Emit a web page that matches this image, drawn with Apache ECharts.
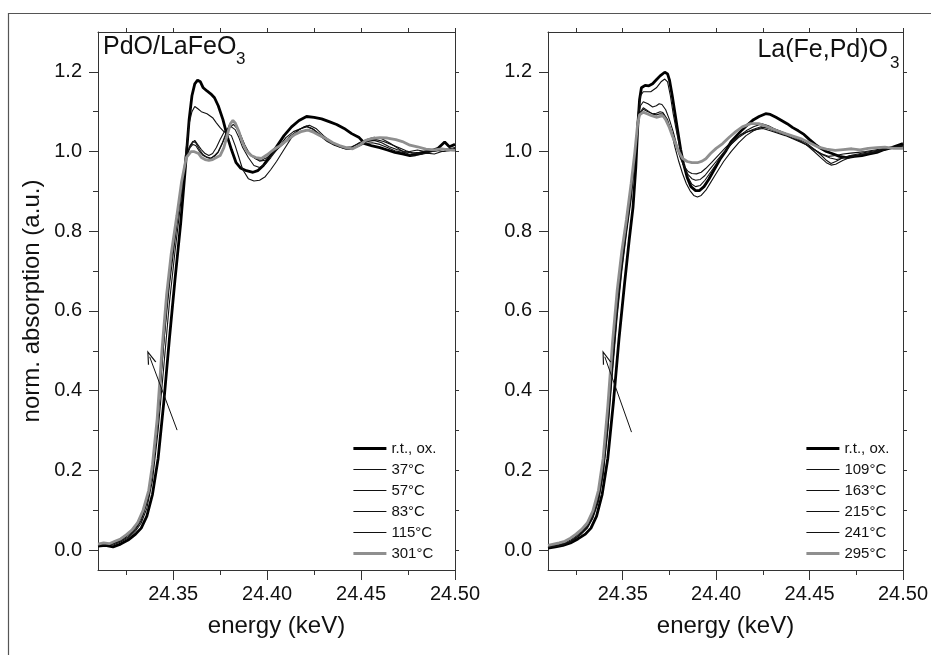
<!DOCTYPE html>
<html><head><meta charset="utf-8">
<script src="https://cdn.jsdelivr.net/npm/echarts@6/dist/echarts.min.js"></script>
<style>html,body{margin:0;padding:0;background:#fff}#c{width:931px;height:655px}</style>
</head><body><div id="c"></div>
<script>
// ---- tick labels ----
const xTicks = [24.35, 24.40, 24.45, 24.50];
const xMinorTicks = [24.325, 24.375, 24.425, 24.475];
const xAllTicks = [24.325, 24.35, 24.375, 24.40, 24.425, 24.45, 24.475, 24.50];
const yTicks = [0, 0.2, 0.4, 0.6, 0.8, 1.0, 1.2];
const yMinorTicks = [0.1, 0.3, 0.5, 0.7, 0.9, 1.1];
const yAllTicks = [0, 0.1, 0.2, 0.3, 0.4, 0.5, 0.6, 0.7, 0.8, 0.9, 1.0, 1.1, 1.2];

// ---- categories (legend entries) ----
const leftNames = ['r.t., ox.', '37°C', '57°C', '83°C', '115°C', '301°C'];
const rightNames = ['r.t., ox.', '109°C', '163°C', '215°C', '241°C', '295°C'];
const leftTitle = 'PdO/LaFeO';
const rightTitle = 'La(Fe,Pd)O';

// ---- arrows [tail, head] ----
const leftArrow = [[24.3521, 0.301], [24.3375, 0.485]];
const rightArrow = [[24.3547, 0.296], [24.3404, 0.485]];

// ---- PdO/LaFeO3 series [energy keV, norm. absorption] ----
const left_rt = [[24.310,0.010],[24.314,0.012],[24.318,0.008],[24.322,0.015],[24.326,0.025],[24.330,0.040],[24.333,0.055],[24.336,0.085],[24.339,0.140],[24.342,0.230],[24.345,0.370],[24.348,0.530],[24.351,0.680],[24.354,0.820],[24.3565,0.960],[24.3585,1.080],[24.360,1.140],[24.3615,1.170],[24.363,1.179],[24.3645,1.175],[24.366,1.160],[24.368,1.152],[24.370,1.145],[24.372,1.135],[24.374,1.115],[24.3765,1.080],[24.379,1.035],[24.381,1.005],[24.3835,0.972],[24.386,0.958],[24.389,0.952],[24.3925,0.948],[24.395,0.952],[24.398,0.965],[24.401,0.985],[24.405,1.012],[24.409,1.040],[24.413,1.062],[24.417,1.078],[24.421,1.088],[24.425,1.086],[24.429,1.082],[24.433,1.075],[24.437,1.068],[24.441,1.058],[24.445,1.045],[24.449,1.035],[24.452,1.020],[24.456,1.014],[24.460,1.010],[24.464,1.004],[24.468,0.998],[24.472,0.994],[24.476,0.990],[24.479,0.992],[24.482,0.996],[24.485,1.000],[24.488,1.003],[24.491,1.008],[24.4945,1.024],[24.497,1.012],[24.500,1.018]];
const left_37 = [[24.310,0.012],[24.314,0.014],[24.318,0.013],[24.322,0.020],[24.326,0.030],[24.330,0.048],[24.333,0.068],[24.336,0.105],[24.339,0.175],[24.342,0.300],[24.345,0.460],[24.348,0.620],[24.351,0.750],[24.354,0.870],[24.3565,0.990],[24.3585,1.070],[24.360,1.100],[24.3615,1.113],[24.363,1.108],[24.365,1.100],[24.368,1.095],[24.371,1.085],[24.373,1.072],[24.375,1.060],[24.377,1.050],[24.379,1.045],[24.381,1.040],[24.383,1.015],[24.385,0.985],[24.387,0.955],[24.390,0.932],[24.393,0.926],[24.396,0.928],[24.399,0.937],[24.402,0.955],[24.405,0.975],[24.409,1.005],[24.413,1.035],[24.417,1.055],[24.421,1.064],[24.424,1.058],[24.428,1.040],[24.432,1.025],[24.436,1.015],[24.440,1.010],[24.444,1.005],[24.448,1.012],[24.452,1.020],[24.456,1.022],[24.460,1.018],[24.464,1.010],[24.468,1.002],[24.472,0.998],[24.476,1.000],[24.480,1.004],[24.484,1.000],[24.488,1.004],[24.492,1.008],[24.496,1.006],[24.500,1.010]];
const left_57 = [[24.310,0.013],[24.314,0.015],[24.318,0.016],[24.322,0.022],[24.326,0.033],[24.330,0.052],[24.333,0.074],[24.336,0.118],[24.339,0.200],[24.342,0.345],[24.345,0.520],[24.348,0.665],[24.351,0.780],[24.354,0.890],[24.3565,0.975],[24.3585,1.010],[24.360,1.020],[24.3615,1.028],[24.363,1.018],[24.365,1.005],[24.367,0.995],[24.369,0.990],[24.371,0.995],[24.373,1.010],[24.375,1.030],[24.377,1.048],[24.379,1.058],[24.381,1.062],[24.383,1.055],[24.385,1.035],[24.387,1.010],[24.390,0.985],[24.393,0.965],[24.396,0.960],[24.399,0.968],[24.402,0.985],[24.406,1.010],[24.410,1.035],[24.414,1.050],[24.418,1.058],[24.421,1.062],[24.425,1.055],[24.429,1.040],[24.433,1.025],[24.437,1.015],[24.441,1.010],[24.445,1.012],[24.449,1.020],[24.453,1.025],[24.457,1.028],[24.461,1.022],[24.465,1.012],[24.469,1.005],[24.473,1.000],[24.477,0.996],[24.481,0.998],[24.485,1.002],[24.489,1.000],[24.493,1.006],[24.497,1.004],[24.500,1.008]];
const left_83 = [[24.310,0.012],[24.313,0.014],[24.316,0.013],[24.319,0.018],[24.322,0.024],[24.325,0.033],[24.328,0.045],[24.331,0.062],[24.334,0.090],[24.337,0.135],[24.339,0.195],[24.3415,0.300],[24.344,0.460],[24.3465,0.605],[24.349,0.720],[24.352,0.825],[24.3545,0.915],[24.357,0.985],[24.359,1.010],[24.3605,1.018],[24.362,1.015],[24.364,1.000],[24.366,0.990],[24.368,0.985],[24.370,0.982],[24.372,0.990],[24.374,1.000],[24.376,1.020],[24.378,1.045],[24.380,1.068],[24.3815,1.076],[24.383,1.070],[24.385,1.052],[24.387,1.028],[24.389,1.005],[24.392,0.988],[24.3945,0.980],[24.397,0.978],[24.400,0.985],[24.404,1.000],[24.408,1.018],[24.412,1.038],[24.416,1.052],[24.4195,1.062],[24.4225,1.066],[24.426,1.058],[24.430,1.040],[24.434,1.025],[24.438,1.012],[24.442,1.006],[24.446,1.008],[24.450,1.018],[24.454,1.028],[24.458,1.030],[24.462,1.025],[24.466,1.018],[24.470,1.010],[24.474,1.002],[24.478,0.996],[24.482,0.994],[24.486,0.998],[24.490,1.003],[24.494,1.000],[24.497,1.006],[24.500,1.004]];
const left_115 = [[24.310,0.014],[24.313,0.016],[24.316,0.015],[24.319,0.020],[24.322,0.026],[24.325,0.036],[24.328,0.048],[24.331,0.066],[24.334,0.096],[24.337,0.145],[24.339,0.205],[24.3415,0.318],[24.344,0.480],[24.3465,0.625],[24.349,0.735],[24.352,0.835],[24.3545,0.920],[24.357,0.988],[24.359,1.015],[24.3605,1.026],[24.362,1.022],[24.364,1.005],[24.366,0.992],[24.368,0.986],[24.370,0.984],[24.372,0.988],[24.374,0.998],[24.376,1.018],[24.378,1.040],[24.380,1.060],[24.382,1.068],[24.384,1.058],[24.386,1.040],[24.388,1.018],[24.390,1.000],[24.393,0.985],[24.396,0.976],[24.399,0.978],[24.402,0.990],[24.406,1.008],[24.410,1.025],[24.414,1.040],[24.418,1.050],[24.4215,1.055],[24.425,1.050],[24.429,1.038],[24.433,1.025],[24.437,1.015],[24.441,1.008],[24.445,1.010],[24.449,1.022],[24.453,1.030],[24.457,1.036],[24.461,1.032],[24.465,1.022],[24.469,1.010],[24.473,0.998],[24.477,0.990],[24.481,0.992],[24.485,0.996],[24.489,0.994],[24.493,1.000],[24.497,1.002],[24.500,1.006]];
const left_301 = [[24.310,0.015],[24.313,0.018],[24.316,0.016],[24.319,0.022],[24.322,0.028],[24.325,0.038],[24.328,0.050],[24.331,0.068],[24.334,0.100],[24.337,0.150],[24.339,0.215],[24.3415,0.330],[24.344,0.500],[24.3465,0.640],[24.349,0.745],[24.352,0.840],[24.3545,0.925],[24.357,0.985],[24.3595,1.000],[24.361,1.000],[24.362,1.005],[24.3635,0.995],[24.365,0.985],[24.367,0.980],[24.369,0.978],[24.371,0.980],[24.373,0.985],[24.375,0.990],[24.377,1.010],[24.379,1.045],[24.3805,1.070],[24.3818,1.078],[24.383,1.072],[24.385,1.050],[24.387,1.022],[24.389,1.002],[24.3915,0.990],[24.394,0.985],[24.397,0.983],[24.400,0.992],[24.4035,1.005],[24.407,1.015],[24.411,1.030],[24.4145,1.042],[24.418,1.050],[24.4215,1.054],[24.425,1.048],[24.428,1.040],[24.4315,1.032],[24.435,1.022],[24.4385,1.015],[24.442,1.010],[24.4455,1.007],[24.449,1.015],[24.4525,1.028],[24.456,1.033],[24.460,1.035],[24.464,1.034],[24.4685,1.030],[24.472,1.025],[24.476,1.016],[24.480,1.012],[24.4845,1.006],[24.489,1.004],[24.493,1.007],[24.4965,1.004],[24.500,1.003]];

// ---- La(Fe,Pd)O3 series ----
const right_rt = [[24.310,0.005],[24.314,0.008],[24.318,0.012],[24.322,0.018],[24.326,0.028],[24.330,0.040],[24.333,0.055],[24.336,0.085],[24.339,0.140],[24.342,0.230],[24.345,0.370],[24.348,0.530],[24.351,0.670],[24.3535,0.780],[24.3555,0.860],[24.357,0.960],[24.358,1.060],[24.359,1.130],[24.360,1.160],[24.362,1.166],[24.364,1.165],[24.366,1.170],[24.368,1.180],[24.370,1.190],[24.3725,1.199],[24.374,1.195],[24.375,1.180],[24.3765,1.140],[24.378,1.095],[24.3795,1.050],[24.381,1.005],[24.3825,0.970],[24.3845,0.935],[24.3865,0.912],[24.389,0.902],[24.391,0.902],[24.3935,0.912],[24.396,0.930],[24.399,0.955],[24.402,0.980],[24.405,1.000],[24.408,1.025],[24.411,1.040],[24.414,1.055],[24.417,1.068],[24.420,1.080],[24.423,1.088],[24.4265,1.095],[24.429,1.093],[24.432,1.086],[24.435,1.078],[24.438,1.070],[24.441,1.060],[24.444,1.052],[24.447,1.043],[24.450,1.030],[24.453,1.018],[24.456,1.008],[24.459,1.000],[24.462,0.995],[24.466,0.988],[24.470,0.985],[24.474,0.988],[24.478,0.990],[24.482,0.994],[24.486,0.998],[24.490,1.005],[24.494,1.010],[24.497,1.015],[24.500,1.020]];
const right_109 = [[24.310,0.007],[24.313,0.009],[24.316,0.011],[24.319,0.015],[24.322,0.020],[24.325,0.030],[24.328,0.041],[24.331,0.055],[24.334,0.080],[24.337,0.122],[24.3395,0.188],[24.342,0.298],[24.3445,0.445],[24.347,0.585],[24.3495,0.700],[24.352,0.795],[24.3545,0.880],[24.3565,0.975],[24.358,1.085],[24.3595,1.140],[24.361,1.150],[24.362,1.150],[24.365,1.150],[24.368,1.160],[24.3705,1.175],[24.3725,1.182],[24.374,1.175],[24.3755,1.140],[24.377,1.095],[24.379,1.045],[24.381,1.000],[24.383,0.962],[24.385,0.935],[24.387,0.918],[24.389,0.912],[24.3915,0.915],[24.394,0.928],[24.397,0.948],[24.400,0.968],[24.404,0.995],[24.408,1.018],[24.412,1.038],[24.416,1.052],[24.420,1.062],[24.4245,1.070],[24.428,1.065],[24.432,1.055],[24.436,1.048],[24.440,1.040],[24.444,1.032],[24.448,1.022],[24.452,1.008],[24.456,0.992],[24.459,0.978],[24.4615,0.970],[24.464,0.975],[24.468,0.985],[24.472,0.990],[24.476,0.992],[24.480,0.995],[24.485,1.000],[24.490,1.005],[24.495,1.010],[24.500,1.015]];
const right_163 = [[24.310,0.008],[24.313,0.010],[24.316,0.012],[24.319,0.016],[24.322,0.022],[24.325,0.032],[24.328,0.044],[24.331,0.058],[24.334,0.085],[24.337,0.130],[24.3395,0.200],[24.342,0.320],[24.3445,0.470],[24.347,0.610],[24.3495,0.720],[24.352,0.810],[24.3545,0.900],[24.3565,0.990],[24.358,1.080],[24.3595,1.115],[24.361,1.125],[24.3635,1.120],[24.366,1.112],[24.368,1.115],[24.3695,1.120],[24.371,1.118],[24.373,1.105],[24.375,1.080],[24.377,1.050],[24.379,1.015],[24.381,0.985],[24.383,0.960],[24.385,0.942],[24.387,0.932],[24.389,0.928],[24.3915,0.930],[24.394,0.940],[24.397,0.958],[24.400,0.975],[24.404,0.998],[24.408,1.018],[24.412,1.035],[24.416,1.048],[24.420,1.056],[24.424,1.062],[24.428,1.058],[24.432,1.050],[24.436,1.044],[24.440,1.036],[24.444,1.028],[24.448,1.018],[24.452,1.006],[24.456,0.995],[24.460,0.988],[24.464,0.990],[24.468,0.994],[24.472,0.996],[24.476,0.998],[24.480,1.000],[24.485,1.004],[24.490,1.008],[24.495,1.012],[24.500,1.016]];
const right_215 = [[24.310,0.010],[24.313,0.012],[24.316,0.014],[24.319,0.018],[24.322,0.025],[24.325,0.035],[24.328,0.047],[24.331,0.062],[24.334,0.090],[24.337,0.138],[24.3395,0.212],[24.342,0.338],[24.3445,0.492],[24.347,0.628],[24.3495,0.735],[24.352,0.820],[24.3545,0.910],[24.3565,0.995],[24.358,1.070],[24.3595,1.098],[24.361,1.106],[24.3635,1.100],[24.366,1.095],[24.368,1.096],[24.370,1.100],[24.3715,1.098],[24.373,1.085],[24.375,1.065],[24.377,1.038],[24.379,1.008],[24.381,0.982],[24.383,0.962],[24.385,0.950],[24.387,0.945],[24.3895,0.944],[24.392,0.948],[24.3945,0.958],[24.3975,0.972],[24.401,0.990],[24.405,1.010],[24.409,1.028],[24.413,1.042],[24.417,1.050],[24.421,1.055],[24.425,1.058],[24.429,1.052],[24.433,1.046],[24.437,1.040],[24.441,1.032],[24.445,1.024],[24.449,1.015],[24.453,1.004],[24.457,0.992],[24.461,0.984],[24.4645,0.980],[24.468,0.984],[24.472,0.990],[24.476,0.994],[24.480,0.998],[24.485,1.002],[24.490,1.006],[24.495,1.010],[24.500,1.014]];
const right_241 = [[24.310,0.006],[24.313,0.009],[24.316,0.011],[24.319,0.015],[24.322,0.021],[24.325,0.030],[24.328,0.042],[24.331,0.056],[24.334,0.082],[24.337,0.125],[24.3395,0.192],[24.342,0.305],[24.3445,0.455],[24.347,0.595],[24.3495,0.708],[24.352,0.800],[24.3545,0.890],[24.3565,0.985],[24.358,1.065],[24.3595,1.100],[24.361,1.110],[24.3635,1.102],[24.366,1.094],[24.368,1.092],[24.370,1.095],[24.372,1.094],[24.374,1.080],[24.376,1.050],[24.378,1.010],[24.380,0.975],[24.382,0.945],[24.384,0.920],[24.386,0.902],[24.388,0.890],[24.390,0.886],[24.392,0.890],[24.3945,0.903],[24.397,0.922],[24.400,0.945],[24.404,0.975],[24.408,1.000],[24.412,1.022],[24.416,1.040],[24.420,1.052],[24.424,1.060],[24.428,1.062],[24.432,1.055],[24.436,1.048],[24.440,1.040],[24.444,1.030],[24.448,1.018],[24.452,1.002],[24.456,0.985],[24.459,0.972],[24.4615,0.966],[24.464,0.968],[24.468,0.978],[24.472,0.986],[24.476,0.990],[24.480,0.994],[24.485,0.998],[24.490,1.004],[24.495,1.010],[24.500,1.014]];
const right_295 = [[24.310,0.012],[24.313,0.015],[24.316,0.018],[24.319,0.022],[24.322,0.030],[24.325,0.040],[24.328,0.052],[24.331,0.068],[24.334,0.098],[24.337,0.150],[24.3395,0.230],[24.342,0.360],[24.3445,0.520],[24.347,0.650],[24.3495,0.750],[24.352,0.830],[24.3545,0.920],[24.3565,1.000],[24.358,1.070],[24.359,1.092],[24.361,1.099],[24.363,1.095],[24.3655,1.090],[24.368,1.086],[24.370,1.088],[24.3715,1.090],[24.373,1.080],[24.3748,1.062],[24.3765,1.040],[24.3785,1.018],[24.380,1.000],[24.382,0.983],[24.3845,0.975],[24.387,0.972],[24.390,0.972],[24.3925,0.976],[24.3945,0.982],[24.397,0.995],[24.400,1.008],[24.4035,1.020],[24.407,1.036],[24.4105,1.050],[24.414,1.062],[24.4185,1.070],[24.4228,1.070],[24.4265,1.064],[24.430,1.057],[24.4335,1.051],[24.437,1.045],[24.4415,1.038],[24.446,1.031],[24.450,1.022],[24.4548,1.011],[24.459,1.006],[24.4637,1.003],[24.468,1.005],[24.4726,1.007],[24.477,1.004],[24.4814,1.008],[24.486,1.010],[24.4903,1.011],[24.495,1.008],[24.500,1.008]];

const leftData = [left_rt, left_37, left_57, left_83, left_115, left_301];
const rightData = [right_rt, right_109, right_163, right_215, right_241, right_295];

// ---- styling ----
const FONT = '"Liberation Sans", Arial, sans-serif';
const AX = '#333';
const styles = [
  {color: '#000', width: 2.8},
  {color: '#111', width: 1.1},
  {color: '#111', width: 1.1},
  {color: '#111', width: 1.1},
  {color: '#111', width: 1.1},
  {color: '#8f8f8f', width: 2.8}
];
const chevron = 'path://M50,0 L100,100 L86,100 L50,26 L14,100 L0,100 Z';

function xAxesFor(g) {
  const base = {gridIndex: g, type: 'value', min: 24.31, max: 24.50, splitLine: {show: false}};
  return [
    Object.assign({}, base, {
      position: 'bottom',
      axisLine: {onZero: false, lineStyle: {color: AX, width: 1}},
      axisTick: {customValues: xTicks, length: 10, lineStyle: {color: AX}},
      axisLabel: {customValues: xTicks, formatter: v => v.toFixed(2), fontSize: 20, margin: 14, color: '#111', fontFamily: FONT},
      name: 'energy (keV)', nameLocation: 'middle', nameGap: 44,
      nameTextStyle: {fontSize: 24, color: '#111', fontFamily: FONT}
    }),
    Object.assign({}, base, {
      position: 'bottom',
      axisLine: {show: false, onZero: false},
      axisTick: {customValues: xMinorTicks, length: 5, lineStyle: {color: AX}},
      axisLabel: {show: false}
    }),
    Object.assign({}, base, {
      position: 'top',
      axisLine: {onZero: false, lineStyle: {color: AX, width: 1}},
      axisTick: {customValues: xAllTicks, length: 4, lineStyle: {color: AX}},
      axisLabel: {show: false}
    })
  ];
}
function yAxesFor(g, withName) {
  const base = {gridIndex: g, type: 'value', min: -0.05, max: 1.3, splitLine: {show: false}};
  const main = Object.assign({}, base, {
    position: 'left',
    axisLine: {show: true, onZero: false, lineStyle: {color: AX, width: 1}},
    axisTick: {show: true, customValues: yTicks, length: 9, lineStyle: {color: AX}},
    axisLabel: {customValues: yTicks, formatter: v => v.toFixed(1), fontSize: 20, margin: 16, color: '#111', fontFamily: FONT}
  });
  if (withName) {
    Object.assign(main, {name: 'norm. absorption (a.u.)', nameLocation: 'middle', nameGap: 54,
      nameTextStyle: {fontSize: 24, color: '#111', fontFamily: FONT}});
  }
  return [
    main,
    Object.assign({}, base, {
      position: 'left',
      axisLine: {show: false, onZero: false},
      axisTick: {show: true, customValues: yMinorTicks, length: 5, lineStyle: {color: AX}},
      axisLabel: {show: false}
    }),
    Object.assign({}, base, {
      position: 'right',
      axisLine: {show: true, onZero: false, lineStyle: {color: AX, width: 1}},
      axisTick: {show: true, customValues: yAllTicks, length: 4, lineStyle: {color: AX}},
      axisLabel: {show: false}
    })
  ];
}

function seriesFor(names, datas, axisIdx, arrow) {
  return names.map((n, i) => {
    const s = {
      name: n, type: 'line', xAxisIndex: axisIdx, yAxisIndex: axisIdx,
      data: datas[i], symbol: 'none', showSymbol: false, smooth: false,
      lineStyle: {color: styles[i].color, width: styles[i].width},
      itemStyle: {color: styles[i].color},
      emphasis: {disabled: true}, silent: true
    };
    if (i === 0) {
      s.markLine = {
        silent: true, animation: false,
        lineStyle: {color: '#111', width: 1, type: 'solid'},
        label: {show: false},
        symbolSize: [9, 14],
        data: [[{coord: arrow[0], symbol: 'none'}, {coord: arrow[1], symbol: chevron}]]
      };
    }
    return s;
  });
}

function legendFor(names, left) {
  return {
    data: names.map((n, i) => ({
      name: n,
      itemStyle: {opacity: 0, borderWidth: 0},
      lineStyle: {width: styles[i].width, color: styles[i].color, opacity: 1}
    })),
    left: left, top: 441, orient: 'vertical', itemWidth: 33, itemHeight: 14, itemGap: 6,
    padding: 0, selectedMode: false,
    itemStyle: {opacity: 0, borderWidth: 0},
    textStyle: {fontSize: 15, color: '#111', fontFamily: FONT}
  };
}

const chart = echarts.init(document.getElementById('c'), null, {renderer: 'canvas'});
chart.setOption({
  animation: false,
  backgroundColor: '#fff',
  grid: [
    {left: 98, top: 32, width: 357, height: 538},
    {left: 548, top: 32, width: 357, height: 538}
  ],
  xAxis: xAxesFor(0).concat(xAxesFor(1)),
  yAxis: yAxesFor(0, true).concat(yAxesFor(1, false)),
  legend: [legendFor(leftNames, 352), legendFor(rightNames, 805)],
  graphic: [
    {type: 'rect', silent: true, z: -10, shape: {x: 8.5, y: 13.5, width: 1000, height: 1000},
     style: {fill: 'none', stroke: '#555', lineWidth: 1.2}},
    {type: 'text', left: 103, top: 35, style: {text: leftTitle, fontSize: 25, fontFamily: FONT, fill: '#111'}},
    {type: 'text', left: 236, top: 51, style: {text: '3', fontSize: 17, fontFamily: FONT, fill: '#111'}},
    {type: 'text', right: 931 - 888, top: 38, style: {text: rightTitle, fontSize: 25, fontFamily: FONT, fill: '#111'}},
    {type: 'text', left: 890, top: 55, style: {text: '3', fontSize: 17, fontFamily: FONT, fill: '#111'}}
  ],
  series: seriesFor(leftNames, leftData, 0, leftArrow).concat(seriesFor(rightNames, rightData, 3, rightArrow))
});
</script></body></html>
